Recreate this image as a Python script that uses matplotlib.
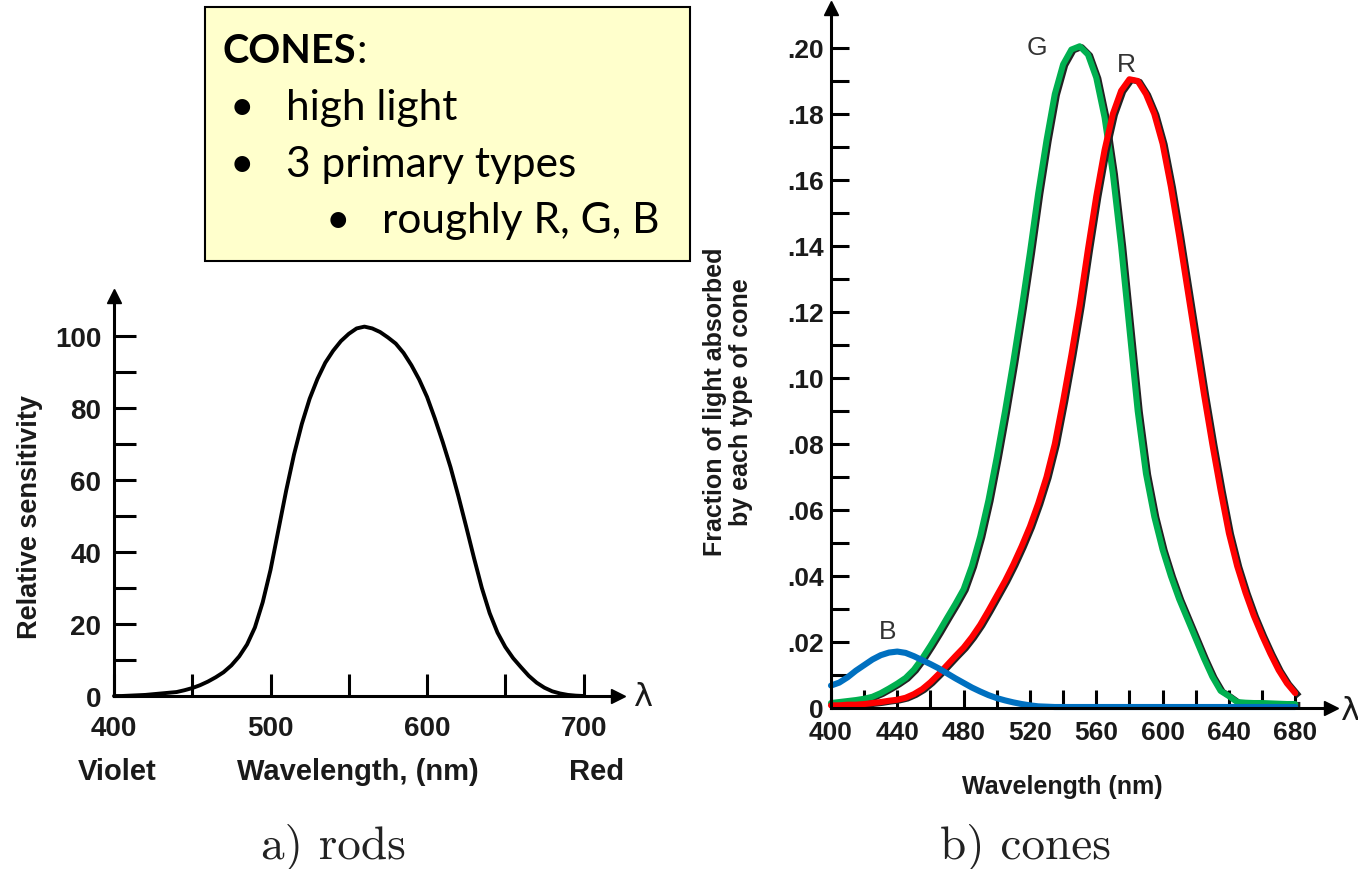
"""Rod vs. cone spectral sensitivity, with a short note box on cones.

Left: relative sensitivity of rods. Right: fraction of light absorbed by
each type of cone (B, G, R), drawn in colour over the original black curves.
"""

from __future__ import annotations

import matplotlib

matplotlib.use("Agg")
import matplotlib.pyplot as plt
import matplotlib.transforms as mtransforms
from matplotlib.patches import Rectangle
from matplotlib.ticker import FixedLocator, FuncFormatter

OUT_PATH = "out.png"
FIG_W, FIG_H, DPI = 1358, 870, 100

AXIS_FONT = "Liberation Sans"
NOTE_FONT = "Lato"
CAPTION_FONT = "cmr10"

# --- rods -------------------------------------------------------------------
ROD_WAVELENGTH = [
    400, 405, 410, 415, 420, 425, 430, 435, 440, 445, 450, 455, 460, 465, 470,
    475, 480, 485, 490, 495, 500, 505, 510, 515, 520, 525, 530, 535, 540, 545,
    550, 555, 560, 565, 570, 575, 580, 585, 590, 595, 600, 605, 610, 615, 620,
    625, 630, 635, 640, 645, 650, 655, 660, 665, 670, 675, 680, 685, 690, 695,
    700,
]
ROD_SENSITIVITY = [
    0.0, 0.0, 0.1, 0.2, 0.3, 0.5, 0.7, 0.9, 1.1, 1.6, 2.2, 3.0, 4.0, 5.2, 6.6,
    8.5, 11.0, 14.3, 19.0, 26.0, 35.0, 46.0, 57.0, 67.0, 75.5, 82.5, 88.0, 92.5,
    95.8, 98.5, 100.5, 102.0, 102.5, 102.0, 101.0, 99.5, 97.8, 95.2, 91.8, 87.8,
    83.0, 77.0, 70.5, 63.5, 55.5, 47.0, 38.3, 30.0, 23.0, 17.6, 13.6, 10.5, 8.0,
    5.6, 3.7, 2.3, 1.3, 0.7, 0.3, 0.1, 0.0,
]
ROD_MAJOR_X = [400, 500, 600, 700]
ROD_MINOR_X = [450, 550, 650]
ROD_MAJOR_Y = [0, 20, 40, 60, 80, 100]
ROD_MINOR_Y = [10, 30, 50, 70, 90]

# --- cones ------------------------------------------------------------------
CONE_WAVELENGTH = [
    400, 405, 410, 415, 420, 425, 430, 435, 440, 445, 450, 455, 460, 465, 470,
    475, 480, 485, 490, 495, 500, 505, 510, 515, 520, 525, 530, 535, 540, 545,
    550, 555, 560, 565, 570, 575, 580, 585, 590, 595, 600, 605, 610, 615, 620,
    625, 630, 635, 640, 645, 650, 655, 660, 665, 670, 675, 680,
]
CONE_B = [
    0.0068, 0.0077, 0.0093, 0.0113, 0.0130, 0.0147, 0.0160, 0.0168, 0.0171,
    0.0167, 0.0157, 0.0145, 0.0133, 0.0120, 0.0105, 0.0090, 0.0076, 0.0062,
    0.0050, 0.0039, 0.0030, 0.0023, 0.0017, 0.0012, 0.0008, 0.0005, 0.0004,
    0.0003, 0.0003, 0.0003, 0.0003, 0.0003, 0.0003, 0.0003, 0.0003, 0.0003,
    0.0003, 0.0003, 0.0003, 0.0003, 0.0003, 0.0003, 0.0003, 0.0003, 0.0003,
    0.0003, 0.0003, 0.0003, 0.0003, 0.0003, 0.0003, 0.0003, 0.0003, 0.0003,
    0.0003, 0.0003, 0.0003,
]
CONE_G = [
    0.0015, 0.0018, 0.0021, 0.0024, 0.0028, 0.0034, 0.0045, 0.0059, 0.0074,
    0.0091, 0.0116, 0.0150, 0.0189, 0.0230, 0.0273, 0.0315, 0.0360, 0.0430,
    0.0520, 0.0630, 0.0760, 0.0900, 0.1050, 0.1210, 0.1380, 0.1560, 0.1720,
    0.1860, 0.1950, 0.1995, 0.2005, 0.1980, 0.1910, 0.1790, 0.1620, 0.1400,
    0.1150, 0.0900, 0.0710, 0.0580, 0.0480, 0.0400, 0.0330, 0.0270, 0.0210,
    0.0150, 0.0095, 0.0052, 0.0036, 0.0018, 0.0016, 0.0015, 0.0015, 0.0014,
    0.0013, 0.0012, 0.0012,
]
CONE_R = [
    0.0008, 0.0008, 0.0010, 0.0010, 0.0012, 0.0015, 0.0018, 0.0022, 0.0025,
    0.0031, 0.0042, 0.0057, 0.0078, 0.0103, 0.0130, 0.0157, 0.0183, 0.0215,
    0.0252, 0.0295, 0.0340, 0.0385, 0.0435, 0.0490, 0.0550, 0.0620, 0.0700,
    0.0800, 0.0930, 0.1070, 0.1220, 0.1390, 0.1550, 0.1690, 0.1800, 0.1870,
    0.1905, 0.1900, 0.1860, 0.1800, 0.1710, 0.1580, 0.1430, 0.1270, 0.1110,
    0.0950, 0.0800, 0.0660, 0.0530, 0.0430, 0.0350, 0.0280, 0.0220, 0.0165,
    0.0115, 0.0075, 0.0045,
]
CONE_MAJOR_X = [400, 440, 480, 520, 560, 600, 640, 680]
CONE_MINOR_X = [420, 460, 500, 540, 580, 620, 660]
CONE_MAJOR_Y = [0.0, 0.02, 0.04, 0.06, 0.08, 0.10, 0.12, 0.14, 0.16, 0.18, 0.20]
CONE_MINOR_Y = [0.01, 0.03, 0.05, 0.07, 0.09, 0.11, 0.13, 0.15, 0.17, 0.19]

CONE_SERIES = [
    # (label, values, colour, label position (nm, value))
    ("G", CONE_G, "#00B050", (524, 0.2003)),
    ("R", CONE_R, "#FF0000", (578, 0.1950)),
    ("B", CONE_B, "#0070C0", (434, 0.0233)),
]

NOTE_LINES = [
    # (bullet, text, bullet x px, text x px, baseline y px)
    ("\u2022", "high light", 230, 286, 120),
    ("\u2022", "3 primary types", 230, 286, 177),
    ("\u2022", "roughly R, G, B", 326, 382, 233),
]


def px_rect(left: float, top: float, right: float, bottom: float) -> list[float]:
    """Figure-fraction rect from pixel edges measured from the top-left."""
    return [left / FIG_W, 1 - bottom / FIG_H, (right - left) / FIG_W, (bottom - top) / FIG_H]


def fx(x: float) -> float:
    return x / FIG_W


def fy(y: float) -> float:
    return 1 - y / FIG_H


def style_arrow_axes(ax, tick_len: float) -> None:
    for side in ("top", "right"):
        ax.spines[side].set_visible(False)
    for side in ("left", "bottom"):
        ax.spines[side].set_linewidth(2.2)
    ax.tick_params(which="both", direction="in", length=tick_len, width=2.2, color="black")
    ax.plot(1, 0, ">", color="black", ms=10, transform=ax.transAxes, clip_on=False)
    ax.plot(0, 1, "^", color="black", ms=10, transform=ax.transAxes, clip_on=False)
    ax.patch.set_visible(False)


def set_tick_font(ax, size: float) -> None:
    for lab in ax.get_xticklabels() + ax.get_yticklabels():
        lab.set_fontfamily(AXIS_FONT)
        lab.set_fontweight("bold")
        lab.set_fontsize(size)
        lab.set_color("#1a1a1a")


def plot_rods(fig) -> None:
    ax = fig.add_axes(px_rect(114, 297, 618, 697))
    ax.plot(ROD_WAVELENGTH, ROD_SENSITIVITY, color="black", linewidth=2.8, clip_on=False,
            solid_capstyle="round", solid_joinstyle="round")
    ax.set_xlim(400, 722)
    ax.set_ylim(0, 111)

    ax.xaxis.set_major_locator(FixedLocator(ROD_MAJOR_X))
    ax.xaxis.set_minor_locator(FixedLocator(ROD_MINOR_X))
    ax.yaxis.set_major_locator(FixedLocator(ROD_MAJOR_Y))
    ax.yaxis.set_minor_locator(FixedLocator(ROD_MINOR_Y))
    style_arrow_axes(ax, tick_len=16)
    ax.tick_params(axis="x", which="major", pad=14)
    ax.tick_params(axis="y", which="major", pad=9)
    set_tick_font(ax, 20)

    text_kw = dict(family=AXIS_FONT, weight="bold", fontsize=21, color="#1a1a1a",
                   ha="center", va="center")
    fig.text(fx(117), fy(772), "Violet", **text_kw)
    fig.text(fx(358), fy(772), "Wavelength, (nm)", **text_kw)
    fig.text(fx(597), fy(772), "Red", **text_kw)
    fig.text(fx(30), fy(517), "Relative sensitivity", rotation=90,
             **{**text_kw, "fontsize": 19.5})
    fig.text(fx(643), fy(698), "\u03bb", family="DejaVu Sans", fontsize=23,
             color="#1a1a1a", ha="center", va="center")
    fig.text(fx(333), fy(847), "a) rods", family=CAPTION_FONT, fontsize=34,
             color="#222222", ha="center", va="center")


def plot_cones(fig) -> None:
    ax = fig.add_axes(px_rect(831, 9, 1331, 709))
    shadow = ax.transData + mtransforms.ScaledTranslation(1.6 / 72, -0.6 / 72, fig.dpi_scale_trans)
    for name, values, colour, (lx, ly) in CONE_SERIES:
        if name != "B":
            ax.plot(CONE_WAVELENGTH, values, color="#222222", linewidth=4.2,
                    transform=shadow, clip_on=False, solid_joinstyle="round")
        ax.plot(CONE_WAVELENGTH, values, color=colour, linewidth=4.4, clip_on=False,
                solid_capstyle="round", solid_joinstyle="round")
        ax.text(lx, ly, name, family=AXIS_FONT, fontsize=19, color="#333333",
                ha="center", va="center")
    ax.set_xlim(400, 701.6)
    ax.set_ylim(0, 0.2121)

    ax.xaxis.set_major_locator(FixedLocator(CONE_MAJOR_X))
    ax.xaxis.set_minor_locator(FixedLocator(CONE_MINOR_X))
    ax.yaxis.set_major_locator(FixedLocator(CONE_MAJOR_Y))
    ax.yaxis.set_minor_locator(FixedLocator(CONE_MINOR_Y))
    ax.yaxis.set_major_formatter(FuncFormatter(lambda v, _: "0" if v == 0 else f"{v:.2f}"[1:]))
    style_arrow_axes(ax, tick_len=13)
    ax.tick_params(axis="x", which="major", pad=9)
    ax.tick_params(axis="y", which="major", pad=5)
    set_tick_font(ax, 19)

    text_kw = dict(family=AXIS_FONT, weight="bold", fontsize=18, color="#1a1a1a",
                   ha="center", va="center")
    fig.text(fx(1062), fy(787), "Wavelength (nm)", **text_kw)
    fig.text(fx(728), fy(402), "Fraction of light absorbed\nby each type of cone",
             rotation=90, linespacing=1.12, **text_kw)
    fig.text(fx(1350), fy(712), "\u03bb", family="DejaVu Sans", fontsize=23,
             color="#1a1a1a", ha="center", va="center")
    fig.text(fx(1026), fy(847), "b) cones", family=CAPTION_FONT, fontsize=34,
             color="#222222", ha="center", va="center")


def draw_note(fig) -> None:
    box = Rectangle((fx(205), fy(262)), fx(690) - fx(205), fy(8) - fy(262),
                    transform=fig.transFigure, facecolor="#FFFFCC", edgecolor="black",
                    linewidth=1.5, zorder=5)
    fig.patches.append(box)

    kw = dict(family=NOTE_FONT, fontsize=30.5, color="black", va="baseline", zorder=6)
    title = fig.text(fx(222), fy(63), "CONES", weight="bold", **{**kw, "fontsize": 28.5})
    renderer = fig.canvas.get_renderer()
    right = title.get_window_extent(renderer).x1
    fig.text((right + 1) / FIG_W, fy(63), ":", **kw)
    for bullet, text, bx, tx, y in NOTE_LINES:
        fig.text(fx(bx), fy(y), bullet, **kw)
        fig.text(fx(tx), fy(y), text, **kw)


def main() -> None:
    fig = plt.figure(figsize=(FIG_W / DPI, FIG_H / DPI), dpi=DPI)
    fig.patch.set_facecolor("white")
    plot_rods(fig)
    plot_cones(fig)
    draw_note(fig)
    fig.savefig(OUT_PATH, dpi=DPI)
    plt.close(fig)


if __name__ == "__main__":
    main()
